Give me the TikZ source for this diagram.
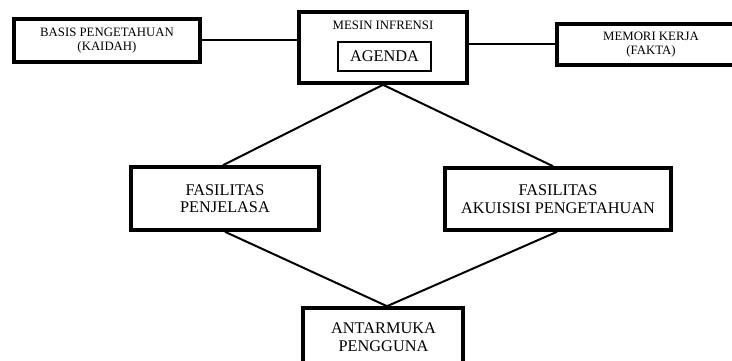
\documentclass[tikz,border=0pt]{standalone}
\usepackage{fontspec}
\setmainfont{Liberation Serif}
\begin{document}
\begin{tikzpicture}[x=1pt,y=1pt,
  bigbox/.style={draw=black,line width=3.6pt,inner sep=0pt,align=center},
  agbox/.style={draw=black,line width=2.4pt,inner sep=0pt,align=center},
  smalltxt/.style={font=\fontsize{12.8}{14.5}\selectfont,align=center,inner sep=0pt},
  bigtxt/.style={font=\fontsize{16.3}{17.5}\selectfont,align=center,inner sep=0pt},
  conn/.style={draw=black,line width=2pt}]
\useasboundingbox (0,0) rectangle (732,361);
\begin{scope}
\clip (0,0) rectangle (732,361);
\node[bigbox,smalltxt,minimum width=186pt,minimum height=43pt] (basis) at (107,320.5) {BASIS PENGETAHUAN\\(KAIDAH)};
\node[bigbox,minimum width=168pt,minimum height=71pt] (mesin) at (383,313.5) {};
\node[smalltxt] (mesinlbl) at (383,336) {MESIN INFRENSI};
\node[agbox,bigtxt,minimum width=93pt,minimum height=29pt] (agenda) at (384.5,304.5) {AGENDA};
\node[bigbox,smalltxt,minimum width=188pt,minimum height=41pt] (memori) at (651,316.5) {MEMORI KERJA\\(FAKTA)};
\node[bigbox,bigtxt,minimum width=188pt,minimum height=63pt] (penjelasa) at (225,162.5) {FASILITAS\\PENJELASA};
\node[bigbox,bigtxt,minimum width=226pt,minimum height=62pt] (akuisisi) at (558,162) {FASILITAS\\AKUISISI PENGETAHUAN};
\node[bigbox,minimum width=160pt,minimum height=72pt] (antarmuka) at (383,17) {};
\node[bigtxt] (antarlbl) at (383.5,24) {ANTARMUKA\\PENGGUNA};
\draw[conn] (basis.east) -- (basis.east -| mesin.west);
\draw[conn] (mesin.east |- memori.west) -- (memori.west);
\draw[conn] (mesin.south) -- ([xshift=-2pt]penjelasa.north);
\draw[conn] (mesin.south) -- ([xshift=-5pt]akuisisi.north);
\draw[conn] (penjelasa.south) -- ([xshift=4pt]antarmuka.north);
\draw[conn] ([xshift=-1pt]akuisisi.south) -- ([xshift=4pt]antarmuka.north);
\end{scope}
\end{tikzpicture}
\end{document}
